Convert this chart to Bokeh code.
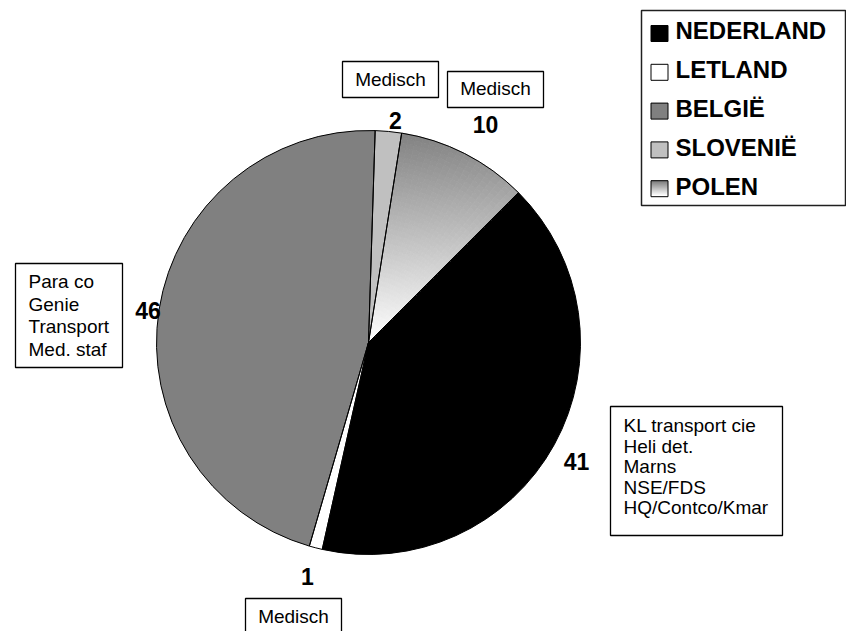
import math
from bokeh.plotting import figure
from bokeh.models import Range1d
from bokeh.core.properties import value
from bokeh.embed import file_html
from bokeh.resources import INLINE

# ---------------- data ----------------
countries = ["NEDERLAND", "LETLAND", "BELGIË", "SLOVENIË", "POLEN"]
values = [41, 1, 46, 2, 10]
value_labels = ["41", "1", "46", "2", "10"]
unit_notes = [
    ["KL transport cie", "Heli det.", "Marns", "NSE/FDS", "HQ/Contco/Kmar"],
    ["Medisch"],
    ["Para co", "Genie", "Transport", "Med. staf"],
    ["Medisch"],
    ["Medisch"],
]

# ---------------- styles / layout ----------------
W, H = 846, 631
FONT = value("Liberation Sans")
fills = ["#000000", "#ffffff", "#808080", "#c0c0c0", "gradient"]
GRAD_TOP, GRAD_BOT = (128, 128, 128), (255, 255, 255)
BASE_SHIFT = 0.4  # em, compensates baseline placement of the svg text

def X(px):
    return px

def Y(py):
    return H - py

def YT(py, size):
    return H - (py - BASE_SHIFT * size)

PIE_CX, PIE_CY, PIE_R = 368, 342, 212
FIRST_SLICE_CW = 45.0  # degrees clockwise from 12 o'clock

NUM_SIZE, NOTE_SIZE, LEG_SIZE = 23, 19, 24

# number label anchors (page px, centre x / baseline y)
num_pos = [(576, 470), (307, 585), (147.5, 319), (395, 129), (485, 133)]
# note boxes (left, top, right, bottom) in page px
box_pos = [(610, 406, 782, 535), (245, 598, 341, 660), (15, 263, 122, 367),
           (342, 61, 438, 97), (447, 71, 543, 107)]
# note text: (x, first baseline, line spacing, align)
note_txt = [(623, 433, 20.5, "left"), (293, 624, 0, "center"), (28, 288.5, 22.6, "left"),
            (390, 86.7, 0, "center"), (495, 96, 0, "center")]

p = figure(width=W, height=H, x_range=Range1d(0, W), y_range=Range1d(0, H),
           x_axis_type=None, y_axis_type=None, output_backend="svg",
           toolbar_location=None, min_border=0)
p.grid.visible = False
p.outline_line_color = None
p.background_fill_color = "white"
p.border_fill_color = "white"

def grad_color(t):
    t = max(0.0, min(1.0, t))
    c = [round(a + (b - a) * t) for a, b in zip(GRAD_TOP, GRAD_BOT)]
    return "#%02x%02x%02x" % tuple(c)

# ---------------- pie ----------------
total = sum(values)
cx, cy = X(PIE_CX), Y(PIE_CY)
cw = FIRST_SLICE_CW
starts, ends = [], []
for v in values:
    s = cw
    e = cw + 360.0 * v / total
    starts.append(s)
    ends.append(e)
    cw = e

def to_math(deg_cw):
    return math.radians(90.0 - deg_cw)

for i, (s, e) in enumerate(zip(starts, ends)):
    if fills[i] == "gradient":
        # vertical gradient approximated with small annular cells
        n_r, n_a = 44, 18
        xs, ys, ir, orr, sa, ea, cols = [], [], [], [], [], [], []
        y_top = PIE_CY - PIE_R
        y_bot = PIE_CY
        for a in range(n_a):
            a0 = s + (e - s) * a / n_a
            a1 = s + (e - s) * (a + 1) / n_a
            am = (a0 + a1) / 2
            for r in range(n_r):
                r0 = PIE_R * r / n_r
                r1 = PIE_R * (r + 1) / n_r
                rm = (r0 + r1) / 2
                py = PIE_CY - rm * math.cos(math.radians(am))
                t = (py - y_top) / (y_bot - y_top)
                xs.append(cx); ys.append(cy)
                ir.append(r0); orr.append(r1)
                sa.append(to_math(a0)); ea.append(to_math(a1))
                cols.append(grad_color(t))
        p.annular_wedge(x=xs, y=ys, inner_radius=ir, outer_radius=orr,
                        start_angle=sa, end_angle=ea, direction="clock",
                        fill_color=cols, line_color=cols, line_width=0.8)
    else:
        p.wedge(x=cx, y=cy, radius=PIE_R, start_angle=to_math(s), end_angle=to_math(e),
                direction="clock", fill_color=fills[i], line_color=None)

# outlines
p.wedge(x=[cx] * len(values), y=[cy] * len(values), radius=PIE_R,
        start_angle=[to_math(s) for s in starts], end_angle=[to_math(e) for e in ends],
        direction="clock", fill_color=None, line_color="black", line_width=1)

# ---------------- value labels ----------------
p.text(x=[X(a) for a, b in num_pos], y=[YT(b, NUM_SIZE) for a, b in num_pos], text=value_labels,
       text_font=FONT, text_font_style="bold", text_font_size=value(f"{NUM_SIZE}px"),
       text_align="center", text_baseline="alphabetic", text_color="black")

# ---------------- note boxes ----------------
p.quad(left=[X(b[0]) for b in box_pos], right=[X(b[2]) for b in box_pos],
       top=[Y(b[1]) for b in box_pos], bottom=[Y(b[3]) for b in box_pos],
       fill_color="white", line_color="black", line_width=1.3)

tx, ty, tt, ta = [], [], [], []
for lines, (x0, y0, dy, al) in zip(unit_notes, note_txt):
    for k, line in enumerate(lines):
        tx.append(X(x0)); ty.append(YT(y0 + k * dy, NOTE_SIZE)); tt.append(line); ta.append(al)
for al in ("left", "center"):
    idx = [k for k in range(len(tt)) if ta[k] == al]
    p.text(x=[tx[k] for k in idx], y=[ty[k] for k in idx], text=[tt[k] for k in idx],
           text_font=FONT, text_font_size=value(f"{NOTE_SIZE}px"), text_align=al,
           text_baseline="alphabetic", text_color="black")

# ---------------- legend ----------------
LEG_BOX = (641, 10, 845, 205)
LEG_SQ_X, LEG_SQ_Y0, LEG_STEP, LEG_SQ = 659, 33, 38.8, 16
LEG_TX, LEG_TY0 = 675, 40

p.quad(left=[X(LEG_BOX[0])], right=[X(LEG_BOX[2])], top=[Y(LEG_BOX[1])],
       bottom=[Y(LEG_BOX[3])], fill_color="white", line_color="#202020", line_width=1.5)

sq_x, sq_y, sq_c = [], [], []
for i, c in enumerate(fills):
    yc = LEG_SQ_Y0 + i * LEG_STEP
    if c == "gradient":
        n = 8
        for k in range(n):
            yk = yc - LEG_SQ / 2 + (k + 0.5) * LEG_SQ / n
            p.rect(x=[X(LEG_SQ_X)], y=[Y(yk)], width=LEG_SQ + 1, height=LEG_SQ / n + 0.4,
                   fill_color=grad_color(k / (n - 1)), line_color=None)
        p.rect(x=[X(LEG_SQ_X)], y=[Y(yc)], width=LEG_SQ + 1, height=LEG_SQ,
               fill_color=None, line_color="black", line_width=1)
    else:
        sq_x.append(X(LEG_SQ_X)); sq_y.append(Y(yc)); sq_c.append(c)
p.rect(x=sq_x, y=sq_y, width=LEG_SQ + 1, height=LEG_SQ, fill_color=sq_c,
       line_color="black", line_width=1)

p.text(x=[X(LEG_TX)] * len(countries),
       y=[YT(LEG_TY0 + i * LEG_STEP, LEG_SIZE) for i in range(len(countries))], text=countries,
       text_font=FONT, text_font_style="bold", text_font_size=value(f"{LEG_SIZE}px"),
       text_align="left", text_baseline="alphabetic", text_color="black")

open("out.html", "w").write(file_html(p, INLINE))
